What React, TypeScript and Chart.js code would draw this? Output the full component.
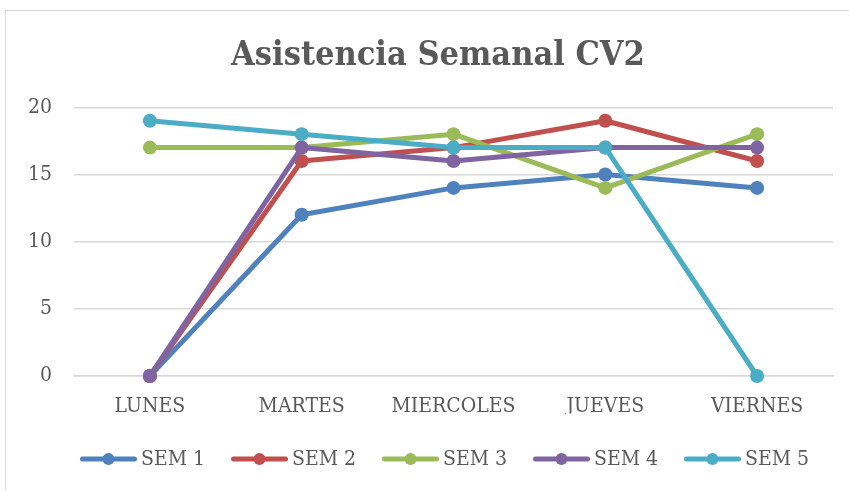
import React, { useEffect, useRef } from "react";
import { Chart, registerables } from "chart.js";

Chart.register(...registerables);

const categories = ["LUNES", "MARTES", "MIERCOLES", "JUEVES", "VIERNES"];
const seriesNames = ["SEM 1", "SEM 2", "SEM 3", "SEM 4", "SEM 5"];
const sem1 = [0, 12, 14, 15, 14];
const sem2 = [0, 16, 17, 19, 16];
const sem3 = [17, 17, 18, 14, 18];
const sem4 = [0, 17, 16, 17, 17];
const sem5 = [19, 18, 17, 17, 0];
const seriesValues = [sem1, sem2, sem3, sem4, sem5];
const seriesColors = ["#4F81BD", "#C0504D", "#9BBB59", "#8064A2", "#4BACC6"];
const yTicks = [0, 5, 10, 15, 20];
const titleText = "Asistencia Semanal CV2";

const FONT = "'DejaVu Serif Condensed', 'DejaVu Serif', serif";
const TEXT = "#595959";

const shiftTitle = {
  id: "shiftTitle",
  afterLayout(chart: any) {
    if (chart.titleBlock) chart.titleBlock.left = 43;
  },
};

const lineLegend = {
  id: "lineLegend",
  afterDraw(chart: any) {
    const ctx = chart.ctx;
    const startX = 80;
    const step = 151;
    const y = 459;
    ctx.save();
    ctx.font = `21px ${FONT}`;
    ctx.textBaseline = "middle";
    ctx.textAlign = "left";
    chart.data.datasets.forEach((ds: any, i: number) => {
      const x = startX + i * step;
      const color = ds.borderColor as string;
      ctx.strokeStyle = color;
      ctx.lineWidth = 5;
      ctx.lineCap = "round";
      ctx.beginPath();
      ctx.moveTo(x + 2.5, y);
      ctx.lineTo(x + 54.5, y);
      ctx.stroke();
      ctx.fillStyle = color;
      ctx.beginPath();
      ctx.arc(x + 28.5, y, 6, 0, Math.PI * 2);
      ctx.fill();
      ctx.fillStyle = TEXT;
      ctx.fillText(ds.label, x + 61, y + 1);
    });
    ctx.restore();
  },
};

export default function App() {
  const ref = useRef<HTMLCanvasElement | null>(null);

  useEffect(() => {
    if (!ref.current) return;
    const chart = new Chart(ref.current, {
      type: "line",
      data: {
        labels: categories,
        datasets: seriesNames.map((name, i) => ({
          label: name,
          data: seriesValues[i],
          borderColor: seriesColors[i],
          backgroundColor: seriesColors[i],
          pointBackgroundColor: seriesColors[i],
          pointBorderColor: seriesColors[i],
          borderWidth: 5,
          pointRadius: 7,
          pointBorderWidth: 0,
          tension: 0,
          clip: false as any,
          borderJoinStyle: "round" as const,
          borderCapStyle: "round" as const,
          order: seriesNames.length - i,
        })),
      },
      options: {
        animation: false,
        responsive: false,
        maintainAspectRatio: false,
        layout: { padding: { left: 0, right: 16, top: 0, bottom: 77.5 } },
        plugins: {
          title: {
            display: true,
            text: titleText,
            color: TEXT,
            font: { family: FONT, size: 34, weight: "bold" },
            padding: { top: 36, bottom: 30.5 },
          },
          legend: { display: false },
          tooltip: { enabled: false },
        },
        scales: {
          x: {
            offset: true,
            grid: { display: false, drawTicks: false },
            border: { display: true, color: "#D9D9D9", width: 1.5 },
            ticks: {
              color: TEXT,
              font: { family: FONT, size: 21 },
              padding: 17.5,
              maxRotation: 0,
              autoSkip: false,
            },
            afterFit: (s: any) => {
              s.height = 37.5;
            },
          },
          y: {
            min: 0,
            max: 20,
            afterBuildTicks: (s: any) => {
              s.ticks = yTicks.map((v) => ({ value: v }));
            },
            grid: { color: "#D9D9D9", lineWidth: 1.5, drawTicks: false },
            border: { display: false },
            ticks: {
              color: TEXT,
              font: { family: FONT, size: 21 },
              padding: 22,
            },
            afterFit: (s: any) => {
              s.width = 74;
            },
          },
        },
      },
      plugins: [shiftTitle, lineLegend],
    });
    return () => chart.destroy();
  }, []);

  return (
    <div
      style={{
        position: "absolute",
        left: 0,
        top: 0,
        width: 849,
        height: 491,
        overflow: "hidden",
        background: "#fff",
      }}
    >
      <div
        style={{
          position: "absolute",
          left: 5,
          top: 10,
          width: 900,
          height: 600,
          border: "1.5px solid #D9D9D9",
        }}
      />
      <canvas
        ref={ref}
        width={849}
        height={491}
        style={{ position: "absolute", left: 0, top: 0, width: 849, height: 491 }}
      />
    </div>
  );
}
